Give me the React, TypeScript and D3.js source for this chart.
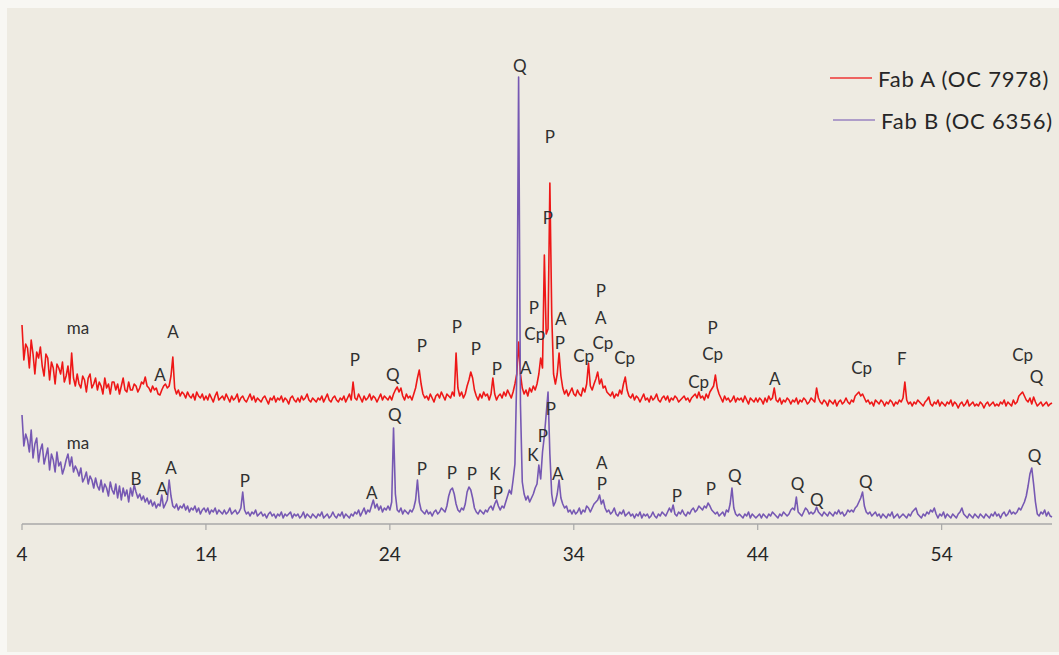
import React from 'react';
import * as d3 from 'd3';

// 2-theta grid: each row holds one degree, values every 0.1 degree
const THETA_START = 4;
const THETA_STEP = 0.1;
const xTicks = [4, 14, 24, 34, 44, 54];
const seriesNames = ['Fab A (OC 7978)', 'Fab B (OC 6356)'];

const fabARows: number[][] = [
  [199,164,180,176,156,184,170,150,172,166],
  [177,158,148,170,166,144,162,156,140,160],
  [156,150,162,142,148,158,140,171,146,138],
  [150,140,136,148,144,132,146,150,136,140],
  [146,134,142,138,130,146,136,140,130,142],
  [142,134,140,130,138,146,134,132,142,134],
  [134,140,138,132,136,142,140,147,138,136],
  [132,138,134,136,130,129,134,138,140,136],
  [138,148,167,136,130,134,128,132,130,126],
  [132,128,126,130,124,132,128,126,130,124],
  [128,124,130,126,122,128,132,124,126,128],
  [124,130,126,122,128,124,126,130,122,126],
  [128,124,122,126,130,124,128,122,126,124],
  [122,126,128,124,120,126,124,128,122,126],
  [124,128,122,126,124,120,126,128,124,122],
  [126,122,128,124,126,130,124,122,126,124],
  [122,126,124,128,122,126,130,124,122,126],
  [128,124,122,126,124,128,122,126,130,124],
  [142,126,124,130,126,122,128,124,126,130],
  [124,128,126,122,126,130,124,128,126,124],
  [128,124,130,134,137,132,136,128,124,130],
  [126,128,124,130,136,146,154,140,130,126],
  [128,124,130,126,122,128,130,126,132,128],
  [124,130,128,126,132,128,171,136,128,132],
  [126,130,138,144,152,146,134,128,124,130],
  [126,132,128,130,124,130,146,130,124,128],
  [130,126,132,128,134,130,126,132,140,150],
  [182,150,136,130,134,128,136,132,138,134],
  [140,150,166,156,269,190,195,341,210,150],
  [140,150,171,148,136,130,134,128,132,136],
  [130,128,134,130,128,136,132,140,161,138],
  [134,140,145,152,140,145,136,138,132,130],
  [128,132,126,130,128,134,130,140,147,134],
  [128,126,130,124,128,126,122,126,130,124],
  [126,122,128,124,126,130,124,122,126,128],
  [124,128,122,126,124,128,126,122,124,126],
  [128,124,126,122,126,128,130,126,132,126],
  [128,124,130,126,132,135,138,149,136,130],
  [126,122,128,124,126,122,124,128,122,126],
  [124,126,122,128,124,120,126,124,122,126],
  [122,126,124,120,126,122,128,124,126,136],
  [124,122,126,120,124,122,126,124,120,124],
  [122,126,120,124,122,126,124,120,122,126],
  [124,122,136,126,122,120,124,122,118,124],
  [122,120,124,118,122,124,120,122,126,122],
  [120,124,122,128,130,132,128,130,126,122],
  [124,120,122,118,124,122,120,124,122,118],
  [122,120,124,122,118,122,120,124,122,126],
  [142,124,120,122,118,122,120,124,122,120],
  [118,122,124,127,120,118,122,120,124,118],
  [122,120,118,122,120,124,118,122,120,116],
  [120,122,118,120,124,118,120,122,118,120],
  [118,122,120,116,120,122,118,120,122,118],
  [120,118,122,120,124,118,122,120,118,124],
  [120,122,128,130,132,128,124,122,126,120],
  [127,122,118,120,122,118,120,122,118,120],
  [121],
];

const fabBRows: number[][] = [
  [109,78,90,84,72,94,66,80,86,62],
  [74,80,60,68,76,54,70,64,52,72],
  [58,62,50,56,64,70,58,67,52,58],
  [54,48,56,42,46,52,40,48,44,36],
  [46,38,34,44,32,40,36,28,42,34],
  [30,40,26,38,24,36,28,34,22,36],
  [28,39,32,26,30,24,28,22,26,20],
  [24,18,22,16,20,18,29,16,20,24],
  [44,28,18,16,20,14,18,16,20,14],
  [18,12,16,14,18,12,16,10,14,16],
  [12,16,10,14,12,16,10,14,12,10],
  [14,10,12,16,10,12,14,10,12,16],
  [32,14,10,12,8,12,10,14,8,10],
  [12,8,10,6,10,12,8,10,6,10],
  [8,12,6,10,8,10,12,6,10,8],
  [10,6,8,12,6,10,8,6,10,8],
  [6,10,8,12,6,8,10,6,8,12],
  [8,6,10,8,12,6,10,8,6,10],
  [8,12,10,14,8,12,16,10,14,12],
  [18,24,16,20,14,18,12,16,14,18],
  [14,22,96,30,14,12,16,10,14,12],
  [10,14,12,16,24,44,22,14,12,10],
  [14,10,12,8,12,14,10,12,16,14],
  [12,18,28,34,36,30,20,14,12,16],
  [14,20,32,37,34,26,16,12,10,14],
  [12,10,14,12,16,18,14,20,24,18],
  [14,18,16,22,28,34,30,44,60,150],
  [447,120,42,30,24,28,22,26,30,36],
  [40,59,45,72,88,110,132,70,30,18],
  [22,30,44,26,20,16,18,12,14,10],
  [14,10,12,16,10,14,12,18,16,12],
  [16,20,22,24,29,20,24,16,12,14],
  [10,12,16,10,8,12,10,14,8,10],
  [12,8,10,6,10,8,12,6,10,8],
  [10,6,8,12,8,6,10,8,12,10],
  [8,12,16,12,19,10,8,12,10,14],
  [10,8,12,10,14,16,12,14,18,16],
  [14,18,16,21,18,14,12,10,12,8],
  [10,12,8,14,12,20,36,16,10,8],
  [10,8,6,10,8,12,6,10,8,6],
  [8,10,6,10,8,6,10,8,12,10],
  [8,6,10,8,12,10,8,10,14,16],
  [14,27,12,10,8,12,16,14,10,12],
  [10,12,17,12,10,8,12,10,8,12],
  [10,8,12,10,14,10,12,8,10,14],
  [12,14,12,16,18,22,26,32,18,12],
  [10,12,8,10,12,8,10,6,10,8],
  [6,10,8,12,6,8,10,6,8,10],
  [8,6,10,8,12,14,16,10,8,6],
  [10,8,12,10,14,12,16,10,6,10],
  [8,12,6,10,8,6,10,8,6,10],
  [12,16,10,8,6,10,8,6,10,8],
  [6,10,8,6,10,8,6,10,8,12],
  [8,10,6,10,12,8,10,14,10,12],
  [10,12,16,14,18,22,28,38,50,56],
  [40,22,10,8,12,10,14,8,12,8],
  [7],
];

// phase labels: [text, 2-theta, intensity]
const labelsA: [string, number, number][] = [
  ['ma', 7.04, 197], ['A', 12.21, 193], ['A', 11.5, 150], ['P', 22.1, 165],
  ['Q', 24.16, 150], ['P', 25.74, 179], ['P', 27.64, 198], ['P', 28.67, 176],
  ['P', 29.82, 156], ['A', 31.39, 157], ['P', 32.7, 388], ['P', 32.59, 307],
  ['P', 31.83, 217], ['Cp', 31.88, 191], ['A', 33.29, 206], ['P', 33.24, 182],
  ['Cp', 34.54, 169], ['P', 35.47, 234], ['A', 35.47, 207], ['Cp', 35.58, 182],
  ['Cp', 36.77, 167], ['P', 41.55, 197], ['Cp', 41.55, 171], ['Cp', 40.79, 143],
  ['A', 44.92, 146], ['Cp', 49.65, 157], ['F', 51.83, 166], ['Cp', 58.4, 170],
  ['Q', 59.16, 148],
];

const labelsB: [string, number, number][] = [
  ['Q', 31.07, 459], ['ma', 7.04, 82], ['B', 10.2, 46], ['A', 12.1, 57],
  ['A', 11.61, 36], ['P', 16.12, 44], ['A', 23.02, 32], ['Q', 24.27, 110],
  ['P', 25.74, 56], ['P', 27.37, 52], ['P', 28.46, 51], ['K', 29.71, 51],
  ['P', 29.87, 32], ['K', 31.77, 70], ['P', 32.32, 89], ['P', 32.75, 116],
  ['A', 33.13, 51], ['A', 35.52, 62], ['P', 35.52, 41], ['P', 39.6, 29],
  ['P', 41.45, 36], ['Q', 42.75, 49], ['Q', 46.17, 41], ['Q', 47.21, 25],
  ['Q', 49.87, 43], ['Q', 59.05, 69],
];

const RED = '#ee1717';
const PURPLE = '#7658b3';

function rowsToPoints(rows: number[][]): [number, number][] {
  const pts: [number, number][] = [];
  rows.forEach((row, r) => {
    row.forEach((v, j) => {
      pts.push([THETA_START + r + j * THETA_STEP, v]);
    });
  });
  return pts;
}

export default function App() {
  const W = 1059;
  const H = 655;
  const x = d3.scaleLinear().domain([4, 60]).range([22, 1052]);
  const y = d3.scaleLinear().domain([0, 460]).range([524, 64]);
  const line = d3
    .line<[number, number]>()
    .x((d) => x(d[0]))
    .y((d) => y(d[1]));
  const ptsA = rowsToPoints(fabARows);
  const ptsB = rowsToPoints(fabBRows);
  const labelFont = 'Lato, "Open Sans", sans-serif';
  const axisY = y(0);

  return (
    <svg
      width={W}
      height={H}
      style={{ position: 'absolute', left: 0, top: 0, display: 'block' }}
    >
      <rect x={0} y={0} width={W} height={H} fill="#f8f7f3" />
      <rect x={7} y={8} width={W - 7} height={H - 11} fill="#eeebe2" />
      {/* axis */}
      <line x1={x(4)} x2={x(60)} y1={axisY} y2={axisY} stroke="#a8a8a8" strokeWidth={1.5} />
      {xTicks.map((t) => (
        <g key={t}>
          <line x1={x(t)} x2={x(t)} y1={axisY} y2={axisY + 6} stroke="#a8a8a8" strokeWidth={1.2} />
          <text
            x={x(t)}
            y={axisY + 29}
            textAnchor="middle"
            dominantBaseline="central"
            fontFamily={labelFont}
            fontSize={19}
            fill="#262626"
          >
            {t}
          </text>
        </g>
      ))}
      {/* traces */}
      <path d={line(ptsA) || ''} fill="none" stroke={RED} strokeWidth={1.6} strokeLinejoin="round" />
      <path d={line(ptsB) || ''} fill="none" stroke={PURPLE} strokeWidth={1.6} strokeLinejoin="round" />
      {/* phase labels */}
      {labelsA.concat(labelsB).map(([t, th, v], i) => (
        <text
          key={i}
          x={x(th)}
          y={y(v)}
          textAnchor="middle"
          dominantBaseline="central"
          fontFamily={labelFont}
          fontSize={17}
          fill="#303030"
        >
          {t}
        </text>
      ))}
      {/* legend */}
      <line x1={830} x2={872} y1={78} y2={78} stroke={RED} strokeWidth={1.5} opacity={0.85} />
      <text x={878} y={78} dominantBaseline="central" fontFamily={labelFont} fontSize={22} letterSpacing={0.8} fill="#262626">
        {seriesNames[0]}
      </text>
      <line x1={833} x2={875} y1={120} y2={120} stroke={PURPLE} strokeWidth={1.5} opacity={0.7} />
      <text x={881} y={120} dominantBaseline="central" fontFamily={labelFont} fontSize={22} letterSpacing={0.8} fill="#262626">
        {seriesNames[1]}
      </text>
    </svg>
  );
}
